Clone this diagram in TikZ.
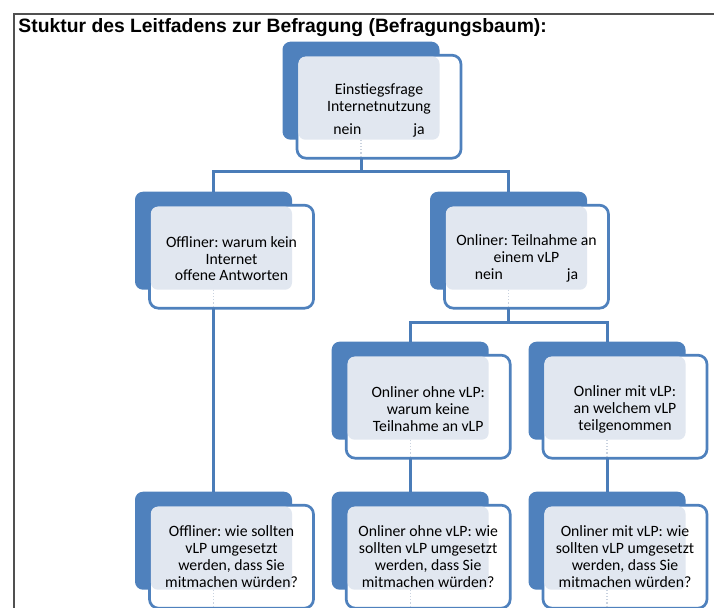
\documentclass[tikz,border=0pt]{standalone}
\usepackage{fontspec}
\setmainfont{Carlito}
\newfontfamily\titlefont{Liberation Sans}
\definecolor{boxblue}{HTML}{4F81BD}
\definecolor{linkblue}{HTML}{4A7CB8}
\definecolor{shadefill}{HTML}{E1E7F0}
\definecolor{faintline}{HTML}{C9D2DF}
\definecolor{framegray}{HTML}{505050}
\newcommand\qbox[5]{%
  \node[backbox] (#1b) at (#2,#3) {};
  \node[frontbox] (#1) at (#2+14.5,#3+13.5) {};
  \fill[shadefill, rounded corners=7bp] ([xshift=1.4bp,yshift=-1.4bp]#1.north west) rectangle (#1b.south east);
  \draw[faintdot] (#1b.south) -- (#1.south -| #1b.south);
  \node[txt] (#1t) at ([yshift=#4]#1.center) {#5};
}
\begin{document}
\frenchspacing
\begin{tikzpicture}[x=1bp,y=-1bp,
  backbox/.style={fill=boxblue, draw=none, rounded corners=8bp, minimum width=157bp, minimum height=98bp, anchor=north west, inner sep=0pt, outer sep=0pt},
  frontbox/.style={fill=white, draw=boxblue, line width=2.7bp, rounded corners=9bp, minimum width=164bp, minimum height=103bp, anchor=north west, inner sep=0pt, outer sep=0pt},
  faintdot/.style={draw=faintline, line width=1.2bp, dotted},
  txt/.style={align=center, inner sep=0pt, font=\fontsize{15.8}{16.8}\selectfont},
  txtfour/.style={font=\fontsize{15.8}{17.3}\selectfont},
  conn/.style={draw=linkblue, line width=3bp}]
\useasboundingbox (0,0) rectangle (714,608);
\draw[framegray, line width=1.8bp] (13.7,608) -- (13.7,14.2) -- (714,14.2);
\node[anchor=base west, inner sep=0pt, font=\titlefont\bfseries\fontsize{19.4}{22}\selectfont] (title) at (18.3,32.6) {Stuktur des Leitfadens zur Befragung (Befragungsbaum):};

\qbox{t}{282.5}{41.7}{-3.5bp}{Einstiegsfrage\\Internetnutzung\\[6.5bp]nein\hspace{52bp}ja}
\qbox{l}{135}{191.7}{-2bp}{Offliner: warum kein\\Internet\\offene Antworten}
\qbox{r}{430}{191.7}{-1.5bp}{Onliner: Teilnahme an\\einem vLP\\nein\hspace{64bp}ja}
\qbox{rl}{331.7}{341.7}{-2.5bp}{Onliner ohne vLP:\\warum keine\\Teilnahme an vLP}
\qbox{rr}{528.5}{341.7}{-2.5bp}{Onliner mit vLP:\\an welchem vLP\\teilgenommen}
\tikzset{txt/.append style={txtfour}}
\qbox{ll}{135}{491.7}{0bp}{Offliner: wie sollten\\vLP umgesetzt\\werden, dass Sie\\mitmachen würden?}
\qbox{mm}{331.7}{491.7}{0bp}{Onliner ohne vLP: wie\\sollten vLP umgesetzt\\werden, dass Sie\\mitmachen würden?}
\qbox{rrr}{528.5}{491.7}{0bp}{Onliner mit vLP: wie\\sollten vLP umgesetzt\\werden, dass Sie\\mitmachen würden?}

\draw[conn] (t.south -| tb.south) -- ++(0,13) -| (lb.north);
\draw[conn] (t.south -| tb.south) -- ++(0,13) -| (rb.north);
\draw[conn] (r.south -| rb.south) -- ++(0,14) -| (rlb.north);
\draw[conn] (r.south -| rb.south) -- ++(0,14) -| (rrb.north);
\draw[conn] (l.south -| lb.south) -- (llb.north);
\draw[conn] (rl.south -| rlb.south) -- (mmb.north);
\draw[conn] (rr.south -| rrb.south) -- (rrrb.north);
\end{tikzpicture}
\end{document}
